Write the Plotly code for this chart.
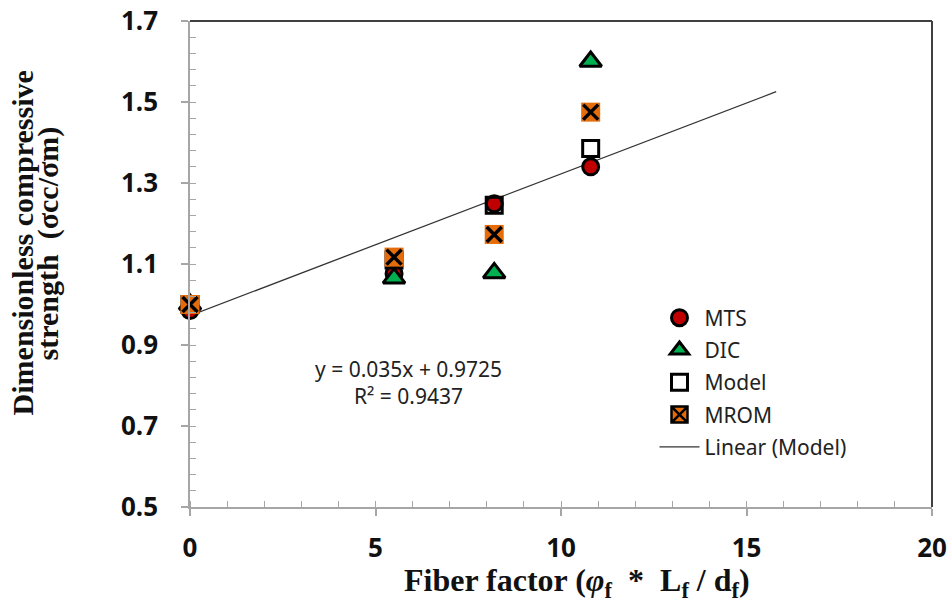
import plotly.graph_objects as go

# ---- data ----
fiber_factor = [0, 5.5, 8.2, 10.8]
mts = [0.985, 1.076, 1.249, 1.34]
dic = [1.0, 1.065, 1.078, 1.60]
model = [1.0, 1.11, 1.245, 1.385]
mrom = [1.0, 1.117, 1.173, 1.475]
trend_coef = [0.035, 0.9725]      # slope, intercept (Linear (Model))
trend_x = [0, 15.8]
trend_y = [trend_coef[0] * x + trend_coef[1] for x in trend_x]
eq_text = "y = 0.035x + 0.9725<br>R² = 0.9437"

x_ticks = [0, 5, 10, 15, 20]
y_ticks = [0.5, 0.7, 0.9, 1.1, 1.3, 1.5, 1.7]

AXIS_GRAY = "#a6a6a6"
LEG_FONT = dict(family="Noto Sans", size=21, color="#222")

fig = go.Figure()

# trend line
fig.add_trace(go.Scatter(x=trend_x, y=trend_y, mode="lines", name="Linear (Model)",
                         line=dict(color="#333333", width=1.3), cliponaxis=False,
                         legendrank=5, legendgroup="g5"))
# MTS
fig.add_trace(go.Scatter(x=fiber_factor, y=mts, mode="markers", name="MTS",
                         marker=dict(symbol="circle", size=16, color="#C00000",
                                     line=dict(color="black", width=3)),
                         cliponaxis=False, legendrank=1, legendgroup="g1"))
# Model
fig.add_trace(go.Scatter(x=fiber_factor, y=model, mode="markers", name="Model",
                         marker=dict(symbol="square-open", size=16, color="black",
                                     line=dict(color="black", width=3)),
                         cliponaxis=False, legendrank=3, legendgroup="g3"))
# DIC
fig.add_trace(go.Scatter(x=fiber_factor, y=dic, mode="markers", name="DIC",
                         marker=dict(symbol="triangle-up", size=19, color="#00B050",
                                     line=dict(color="black", width=3)),
                         cliponaxis=False, legendrank=2, legendgroup="g2"))
# MROM: orange square + black x
fig.add_trace(go.Scatter(x=fiber_factor, y=mrom, mode="markers", name="MROM",
                         marker=dict(symbol="square", size=19, color="#E46C0A",
                                     line=dict(width=0)),
                         cliponaxis=False, showlegend=False, legendgroup="g4"))
fig.add_trace(go.Scatter(x=fiber_factor, y=mrom, mode="markers", name="MROM",
                         marker=dict(symbol="x-thin-open", size=15, color="black",
                                     line=dict(color="black", width=3.5)),
                         cliponaxis=False, showlegend=False, legendgroup="g4"))
fig.add_trace(go.Scatter(x=[None], y=[None], mode="markers", name="MROM",
                         marker=dict(symbol="square-x", size=16, color="#E46C0A",
                                     line=dict(color="black", width=2.5)),
                         legendrank=4, legendgroup="g4"))

fig.update_layout(
    width=952, height=609,
    margin=dict(l=190, r=20, t=21, b=102),
    paper_bgcolor="white", plot_bgcolor="white",
    showlegend=True,
    legend=dict(x=0.626, y=0.431, xanchor="left", yanchor="top",
                font=LEG_FONT, bgcolor="rgba(0,0,0,0)",
                traceorder="grouped", tracegroupgap=2, itemwidth=40),
    xaxis=dict(range=[0, 20], tickvals=x_ticks, ticktext=[str(v) for v in x_ticks],
               showgrid=False, zeroline=False, showline=True, automargin=False,
               linecolor=AXIS_GRAY, linewidth=1.5,
               ticks="outside", ticklen=7, tickcolor=AXIS_GRAY, tickwidth=1.5,
               minor=dict(dtick=1, ticks="inside", ticklen=6, tickcolor=AXIS_GRAY,
                          tickwidth=1, showgrid=False),
               tickfont=dict(family="Noto Sans", size=26, color="#111", weight="bold"),
               ticklabelstandoff=10),
    yaxis=dict(range=[0.5, 1.7], tickvals=y_ticks, ticktext=[f"{v:.1f}" for v in y_ticks],
               showgrid=False, zeroline=False, showline=True, automargin=False,
               linecolor=AXIS_GRAY, linewidth=1.5,
               ticks="outside", ticklen=7, tickcolor=AXIS_GRAY, tickwidth=1.5,
               minor=dict(dtick=0.04, tick0=0.5, ticks="inside", ticklen=6,
                          tickcolor=AXIS_GRAY, tickwidth=1, showgrid=False),
               tickfont=dict(family="Noto Sans", size=26, color="#111", weight="bold"),
               ticklabelstandoff=18),
)

# top and right frame
fig.add_shape(type="line", xref="paper", yref="paper", x0=0, x1=1, y0=1, y1=1,
              line=dict(color="#404040", width=2))
fig.add_shape(type="line", xref="paper", yref="paper", x0=1, x1=1, y0=0, y1=1,
              line=dict(color="#404040", width=2))

TITLE_FONT = dict(family="Liberation Serif", size=32, color="#111", weight="bold")
YTITLE_FONT = dict(family="Liberation Serif", size=30, color="#111", weight="bold")
fig.add_annotation(text="Fiber factor (<i>φ</i><sub>f</sub>&nbsp;&nbsp;*&nbsp;&nbsp;L<sub>f</sub>&nbsp;/&nbsp;d<sub>f</sub>)",
                   xref="paper", yref="paper", x=0.5216, y=-0.155,
                   xanchor="center", yanchor="middle", showarrow=False, font=TITLE_FONT)
fig.add_annotation(text="Dimensionless compressive", xref="paper", yref="paper",
                   x=-0.226, y=0.543, textangle=-90, xanchor="center", yanchor="middle",
                   showarrow=False, font=YTITLE_FONT)
fig.add_annotation(text="strength  (σcc/σm)", xref="paper", yref="paper",
                   x=-0.191, y=0.543, textangle=-90, xanchor="center", yanchor="middle",
                   showarrow=False, font=YTITLE_FONT)

fig.add_annotation(text=eq_text, xref="paper", yref="paper", x=0.295, y=0.257,
                   xanchor="center", yanchor="middle", showarrow=False,
                   font=dict(family="Noto Sans", size=21, color="#222"), align="center")

fig.write_html("out.html", post_script="document.body.style.margin='0';",
               config={"displayModeBar": False})
